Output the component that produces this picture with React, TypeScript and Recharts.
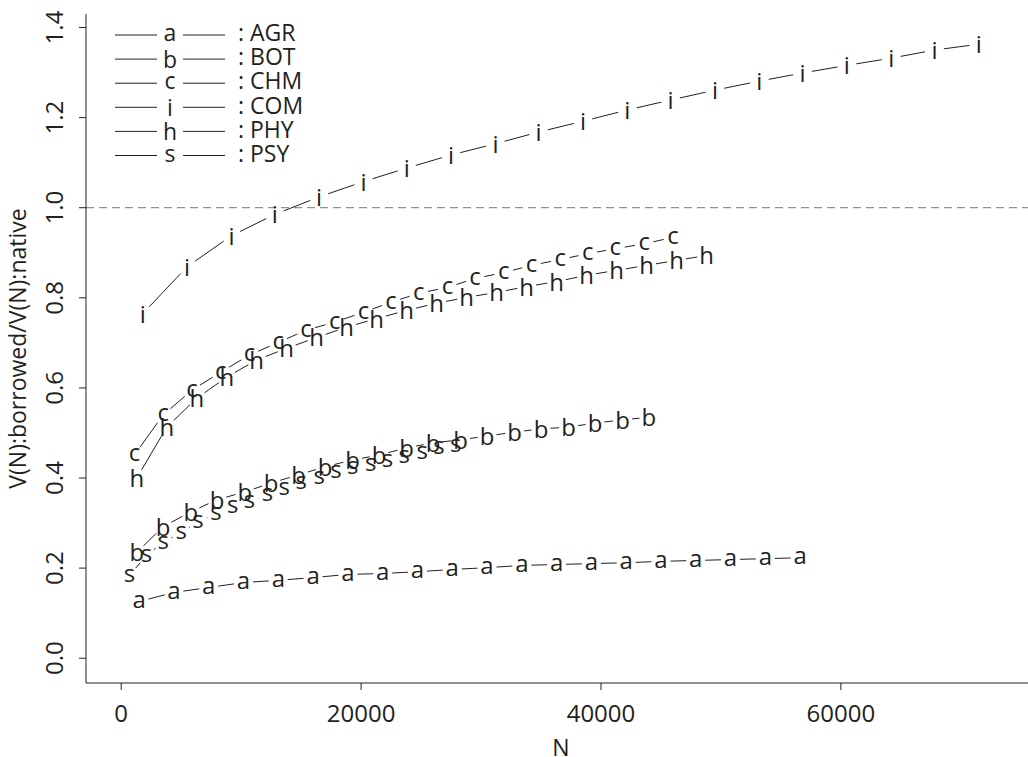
import { LineChart, Line, XAxis, YAxis, ReferenceLine, Label } from "recharts";

// V(N) borrowed / native ratios
const N_AGR = [1500, 4400, 7300, 10200, 13100, 16000, 18900, 21800, 24700, 27600, 30500, 33400, 36300, 39200, 42100, 45000, 47900, 50800, 53700, 56600];
const V_AGR = [0.126, 0.146, 0.157, 0.168, 0.173, 0.179, 0.186, 0.188, 0.192, 0.197, 0.201, 0.206, 0.208, 0.210, 0.212, 0.215, 0.217, 0.219, 0.221, 0.223];

const N_BOT = [1300, 3500, 5800, 8000, 10300, 12500, 14800, 17000, 19300, 21500, 23800, 26000, 28300, 30500, 32800, 35000, 37300, 39500, 41800, 44000];
const V_BOT = [0.235, 0.292, 0.325, 0.352, 0.369, 0.389, 0.407, 0.425, 0.440, 0.451, 0.467, 0.478, 0.485, 0.493, 0.502, 0.509, 0.513, 0.522, 0.529, 0.535];

const N_CHM = [1100, 3500, 5900, 8300, 10700, 13100, 15400, 17800, 20200, 22500, 24800, 27200, 29500, 31900, 34200, 36600, 38900, 41200, 43600, 46000];
const V_CHM = [0.451, 0.540, 0.595, 0.635, 0.673, 0.701, 0.728, 0.746, 0.768, 0.790, 0.810, 0.823, 0.843, 0.856, 0.872, 0.885, 0.898, 0.909, 0.920, 0.934];

const N_COM = [1800, 5500, 9200, 12800, 16500, 20200, 23800, 27500, 31200, 34800, 38500, 42200, 45800, 49500, 53200, 56800, 60500, 64200, 67800, 71500];
const V_COM = [0.765, 0.869, 0.938, 0.985, 1.024, 1.058, 1.088, 1.117, 1.142, 1.168, 1.192, 1.217, 1.239, 1.261, 1.281, 1.299, 1.316, 1.332, 1.350, 1.363];

const N_PHY = [1300, 3800, 6300, 8800, 11300, 13800, 16300, 18800, 21300, 23800, 26300, 28800, 31300, 33800, 36300, 38800, 41300, 43800, 46300, 48800];
const V_PHY = [0.400, 0.513, 0.577, 0.624, 0.662, 0.688, 0.712, 0.735, 0.754, 0.772, 0.788, 0.801, 0.812, 0.825, 0.836, 0.850, 0.861, 0.872, 0.883, 0.894];

const N_PSY = [700, 2100, 3500, 5000, 6400, 7900, 9300, 10700, 12200, 13600, 15000, 16500, 17900, 19300, 20800, 22200, 23600, 25100, 26500, 27900];
const V_PSY = [0.184, 0.228, 0.257, 0.279, 0.303, 0.321, 0.336, 0.347, 0.363, 0.376, 0.389, 0.400, 0.414, 0.423, 0.429, 0.438, 0.447, 0.456, 0.467, 0.473];

const SERIES_NAMES = ["AGR", "BOT", "CHM", "COM", "PHY", "PSY"];
const SERIES_CHARS = ["a", "b", "c", "i", "h", "s"];
const SERIES_N = [N_AGR, N_BOT, N_CHM, N_COM, N_PHY, N_PSY];
const SERIES_V = [V_AGR, V_BOT, V_CHM, V_COM, V_PHY, V_PSY];

const X_TICKS = [0, 20000, 40000, 60000];
const Y_TICKS = [0, 0.2, 0.4, 0.6, 0.8, 1.0, 1.2, 1.4];

const FONT = "'Open Sans', 'Noto Sans', sans-serif";
const INK = "#231f20";
const GAP = 9.5;

// R type="b": character at each point, segments with a gap around it
function makeCharDot(ch: string) {
  let prev: { x: number; y: number } | null = null;
  const tall = "bhi".includes(ch);
  return (props: any) => {
    const { cx, cy, index } = props;
    if (index === 0) prev = null;
    let seg = null;
    if (prev) {
      const dx = cx - prev.x;
      const dy = cy - prev.y;
      const d = Math.sqrt(dx * dx + dy * dy);
      if (d > 2 * GAP) {
        const ux = dx / d;
        const uy = dy / d;
        seg = (
          <line
            x1={prev.x + ux * GAP}
            y1={prev.y + uy * GAP}
            x2={cx - ux * GAP}
            y2={cy - uy * GAP}
            stroke={INK}
            strokeWidth={1}
          />
        );
      }
    }
    prev = { x: cx, y: cy };
    return (
      <g key={`${ch}-${index}`}>
        {seg}
        <text
          x={cx}
          y={cy + (tall ? 9 : 6.4)}
          textAnchor="middle"
          fontSize={24}
          fontFamily={FONT}
          fill={INK}
        >
          {ch}
        </text>
      </g>
    );
  };
}

const YTick = (props: any) => {
  const { x, y, payload } = props;
  return (
    <text
      x={x - 14}
      y={y}
      transform={`rotate(-90, ${x - 14}, ${y})`}
      textAnchor="middle"
      fontSize={24}
      fontFamily={FONT}
      fill={INK}
    >
      {Number(payload.value).toFixed(1)}
    </text>
  );
};

const YTitle = (props: any) => {
  const vb = props.viewBox || { x: 0, y: 14, width: 86, height: 669 };
  const cy = vb.y + vb.height / 2;
  return (
    <text
      x={26}
      y={cy}
      transform={`rotate(-90, 26, ${cy})`}
      textAnchor="middle"
      fontSize={23}
      fontFamily={FONT}
      fill={INK}
    >
      V(N):borrowed/V(N):native
    </text>
  );
};

const XTitle = (props: any) => {
  const vb = props.viewBox || { x: 86, y: 683, width: 950, height: 74 };
  return (
    <text
      x={vb.x + vb.width / 2}
      y={756}
      textAnchor="middle"
      fontSize={23}
      fontFamily={FONT}
      fill={INK}
    >
      N
    </text>
  );
};

const LegendBox = () => (
  <svg
    width={340}
    height={180}
    style={{ position: "absolute", left: 0, top: 0, pointerEvents: "none" }}
  >
    {SERIES_NAMES.map((name, k) => {
      const cy = 35 + k * 24.1;
      const tall = "bhi".includes(SERIES_CHARS[k]);
      return (
        <g key={name}>
          <line x1={115} x2={157} y1={cy} y2={cy} stroke={INK} strokeWidth={1} />
          <text
            x={170}
            y={cy + (tall ? 8.6 : 6.2)}
            textAnchor="middle"
            fontSize={23}
            fontFamily={FONT}
            fill={INK}
          >
            {SERIES_CHARS[k]}
          </text>
          <line x1={183} x2={225} y1={cy} y2={cy} stroke={INK} strokeWidth={1} />
          <text x={238} y={cy + 6.2} fontSize={23} fontFamily={FONT} fill={INK}>
            : {name}
          </text>
        </g>
      );
    })}
  </svg>
);

export default function App() {
  return (
    <div
      style={{
        position: "fixed",
        left: 0,
        top: 0,
        width: 1028,
        height: 757,
        overflow: "hidden",
        background: "#fff",
      }}
    >
      <LineChart width={1040} height={757} margin={{ top: 14, right: 4, bottom: 0, left: 0 }}>
        <XAxis
          xAxisId="top"
          orientation="top"
          type="number"
          dataKey="n"
          domain={[-2933, 76267]}
          allowDataOverflow
          height={0}
          tick={false}
          tickLine={false}
          axisLine={{ stroke: INK }}
        />
        <XAxis
          type="number"
          dataKey="n"
          domain={[-2933, 76267]}
          allowDataOverflow
          ticks={X_TICKS}
          height={74}
          tickSize={7}
          tickMargin={15}
          tickLine={{ stroke: INK }}
          axisLine={{ stroke: INK }}
          tick={{ fontSize: 24, fontFamily: FONT, fill: INK }}
        >
          <Label content={XTitle} />
        </XAxis>
        <YAxis
          type="number"
          domain={[-0.055, 1.43]}
          allowDataOverflow
          ticks={Y_TICKS}
          width={86}
          tickSize={7}
          tickLine={{ stroke: INK }}
          axisLine={{ stroke: INK }}
          tick={<YTick />}
        >
          <Label content={YTitle} />
        </YAxis>
        <ReferenceLine y={1} stroke="#777" strokeDasharray="8 5" strokeWidth={1} />
        {SERIES_NAMES.map((name, k) => (
          <Line
            key={name}
            name={name}
            data={SERIES_N[k].map((n, i) => ({ n, v: SERIES_V[k][i] }))}
            dataKey="v"
            stroke="none"
            dot={makeCharDot(SERIES_CHARS[k])}
            activeDot={false}
            isAnimationActive={false}
          />
        ))}
      </LineChart>
      <LegendBox />
    </div>
  );
}
